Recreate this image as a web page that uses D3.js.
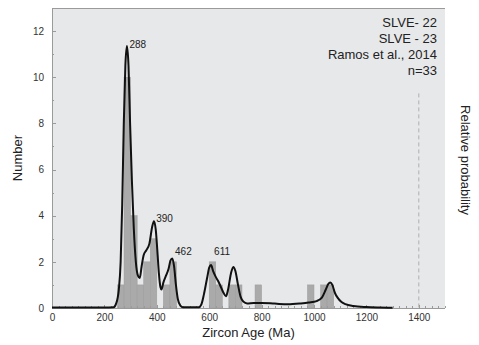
<!DOCTYPE html>
<html>
<head>
  <meta charset="utf-8">
  <title>zircon ages</title>
  <style>
    body { margin: 0; background: #fff; }
    svg text { font-family: "Liberation Sans", Arial, sans-serif; fill: #222; }
    .axis path, .axis line { fill: none; stroke: #9a9a9a; shape-rendering: crispEdges; }
    .axis text { font-size: 10px; fill: #333; }
  </style>
</head>
<body>
<script src="https://d3js.org/d3.v7.min.js"></script>
<script>
  var width = 479, height = 345;
  var padding = {left: 52, right: 34, top: 8, bottom: 37};

  // histogram, 25 Ma bins (bin start, count)
  var binStarts = [250, 275, 300, 325, 350, 375, 425, 450, 600, 625, 675, 700, 775, 975, 1025, 1050];
  var binCounts = [1, 10, 4, 1, 2, 3, 1, 2, 2, 1, 1, 1, 1, 1, 1, 1];
  var binWidth = 25;

  // probability curve (age Ma, height in "Number" units)
  var curveAges = [0, 200, 235, 245, 255, 262, 268, 274, 280, 286, 292, 298, 305, 312, 320, 328, 335, 342, 350, 360,
    372, 382, 389, 396, 402, 408, 414, 418, 425, 435, 445, 452, 459, 466, 473, 480, 490, 500, 560, 570,
    580, 592, 600, 607, 615, 625, 635, 645, 655, 664, 672, 683, 692, 700, 710, 720, 730, 745, 770, 800,
    850, 900, 950, 980, 1010, 1030, 1045, 1055, 1062, 1070, 1080, 1090, 1105, 1120, 1150, 1200, 1250, 1300];
  var curveValues = [0.02, 0.02, 0.03, 0.2, 0.8, 2, 4.5, 8, 10.5, 11.35, 10.5, 8, 5.5, 3.5, 2, 1.4, 1.3, 1.8, 2.3, 2.5,
    2.8, 3.5, 3.76, 3.4, 2.5, 1.5, 0.9, 0.8, 1.1, 1.4, 1.7, 2.05, 2.15, 1.8, 1.0, 0.4, 0.1, 0.03, 0.03, 0.15,
    0.6, 1.3, 1.75, 1.86, 1.6, 1.35, 1.15, 0.9, 0.65, 0.51, 0.8, 1.5, 1.78, 1.6, 1.0, 0.48, 0.28, 0.2, 0.22, 0.22,
    0.19, 0.16, 0.2, 0.24, 0.3, 0.45, 0.8, 1.05, 1.1, 1.0, 0.65, 0.45, 0.26, 0.17, 0.09, 0.04, 0.02, 0.01];

  var peakAges = [288, 390, 462, 611];
  var peakLabelValues = [11.15, 3.6, 2.15, 2.15];

  var legendLines = ['SLVE- 22', 'SLVE - 23', 'Ramos et al., 2014', 'n=33'];
  var yTicks = [0, 2, 4, 6, 8, 10, 12];
  var xTicks = [0, 200, 400, 600, 800, 1000, 1200, 1400];

  var svg = d3.select('body').append('svg')
    .attr('width', width)
    .attr('height', height);

  var innerW = width - padding.left - padding.right,
      innerH = height - padding.top - padding.bottom;

  var xScale = d3.scaleLinear().domain([0, 1500]).range([0, innerW]);
  var yScale = d3.scaleLinear().domain([0, 13]).range([innerH, 0]);

  var g = svg.append('g')
    .attr('transform', 'translate(' + padding.left + ',' + padding.top + ')');

  g.append('rect')
    .attr('width', innerW)
    .attr('height', innerH)
    .attr('fill', '#e7e8ea');

  g.append('line')
    .attr('x1', 0).attr('x2', innerW)
    .attr('y1', 0.5).attr('y2', 0.5)
    .attr('stroke', '#9a9a9a');

  // dashed line at 1400
  g.append('line')
    .attr('x1', xScale(1400)).attr('x2', xScale(1400))
    .attr('y1', yScale(9.3)).attr('y2', innerH)
    .attr('stroke', '#b0b0b0')
    .attr('stroke-dasharray', '4,3');

  // bars
  g.selectAll('.bar')
    .data(binStarts)
    .enter().append('rect')
    .attr('class', 'bar')
    .attr('x', function(d) { return xScale(d); })
    .attr('width', xScale(binWidth) - xScale(0))
    .attr('y', function(d, i) { return yScale(binCounts[i]); })
    .attr('height', function(d, i) { return innerH - yScale(binCounts[i]); })
    .attr('fill', '#aaaaaa')
    .attr('stroke', '#9c9c9c')
    .attr('stroke-width', 0.5);

  // axes
  var yAxis = d3.axisLeft(yScale).tickValues(yTicks).tickSize(-4).tickPadding(8);
  var yMinor = d3.axisLeft(yScale).tickValues(d3.range(1, 13, 2)).tickSize(-2).tickFormat('');
  var xAxis = d3.axisBottom(xScale).tickValues(xTicks).tickSize(-3).tickPadding(6)
    .tickFormat(d3.format('d'));
  var xMinor = d3.axisBottom(xScale).tickValues(d3.range(0, 1501, 25)).tickSize(-2).tickFormat('');

  g.append('g').attr('class', 'axis').call(yMinor).select('.domain').remove();
  g.append('g').attr('class', 'axis').call(yAxis)
    .select('.domain').attr('d', 'M0.5,0V' + innerH);
  g.append('g').attr('class', 'axis')
    .attr('transform', 'translate(0,' + innerH + ')')
    .call(xMinor).select('.domain').remove();
  g.append('g').attr('class', 'axis')
    .attr('transform', 'translate(0,' + innerH + ')')
    .call(xAxis)
    .select('.domain').attr('d', 'M0,0.5H' + innerW);

  // probability curve
  var line = d3.line()
    .x(function(d) { return xScale(d); })
    .y(function(d, i) { return yScale(curveValues[i]); })
    .curve(d3.curveMonotoneX);

  g.append('path')
    .datum(curveAges)
    .attr('d', line)
    .attr('fill', 'none')
    .attr('stroke', '#111')
    .attr('stroke-width', 2)
    .attr('stroke-linejoin', 'round');

  // peak labels
  g.selectAll('.peak')
    .data(peakAges)
    .enter().append('text')
    .attr('class', 'peak')
    .attr('x', function(d) { return xScale(d) + 2; })
    .attr('y', function(d, i) { return yScale(peakLabelValues[i]) - 3; })
    .attr('font-size', '10px')
    .text(function(d) { return d; });

  // legend
  g.selectAll('.legend')
    .data(legendLines)
    .enter().append('text')
    .attr('class', 'legend')
    .attr('x', innerW - 8)
    .attr('y', function(d, i) { return 18.5 + i * 16; })
    .attr('text-anchor', 'end')
    .attr('font-size', '13px')
    .text(function(d) { return d; });

  // axis titles
  svg.append('text')
    .attr('x', padding.left + innerW / 2)
    .attr('y', 337)
    .attr('text-anchor', 'middle')
    .attr('font-size', '13px')
    .text('Zircon Age (Ma)');

  svg.append('text')
    .attr('transform', 'translate(22,' + (padding.top + innerH / 2) + ') rotate(-90)')
    .attr('text-anchor', 'middle')
    .attr('font-size', '13px')
    .text('Number');

  svg.append('text')
    .attr('transform', 'translate(461,' + 160 + ') rotate(90)')
    .attr('text-anchor', 'middle')
    .attr('font-size', '13px')
    .text('Relative probability');
</script>
</body>
</html>
